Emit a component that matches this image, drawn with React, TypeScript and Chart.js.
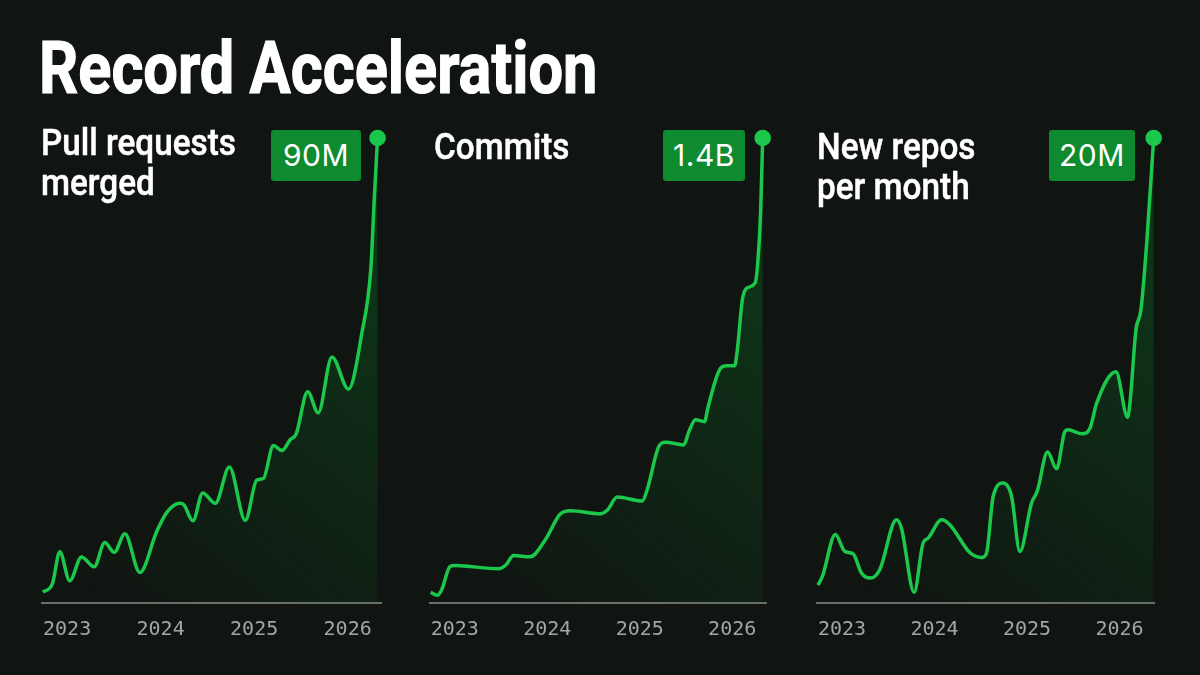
import { useEffect, useRef } from 'react';
import { Chart, registerables } from 'chart.js';

Chart.register(...registerables);

const yearTicks = [0, 12, 24, 36];
const yearLabels = ['2023', '2024', '2025', '2026'];

// months since Jan 2023, values in millions
const prMonths = [0, 1.2, 2.15, 3.43, 4.94, 6.56, 7.93, 9.13, 10.5, 12.43, 14.58, 15.86, 17.57, 18.08, 19.24, 20.49, 22.11, 23.91, 25.96, 27.43, 28.28, 29.56, 30.64, 31.71, 32.48, 33.96, 35.31, 37.07, 39.2, 40.92, 42.08, 42.5, 42.93];
const prValues = [2.1, 3.7, 9.9, 4.3, 8.9, 7.0, 11.7, 9.8, 13.4, 5.9, 13.8, 17.5, 19.3, 19.0, 15.9, 21.3, 19.3, 26.3, 16.0, 23.8, 24.1, 30.5, 29.5, 31.6, 32.7, 40.9, 36.8, 47.6, 41.4, 52.3, 65.0, 78.0, 90];

// values in billions
const commitMonths = [0, 0.86, 1.43, 2.51, 3.16, 8.79, 9.79, 10.74, 12.91, 14.86, 16.81, 18.11, 22.02, 22.97, 24.19, 27.44, 28.09, 29.6, 30.47, 32.85, 33.5, 34.37, 35.54, 35.97, 37.62, 38.4, 39.44, 39.79, 40.44, 41.0, 42.08, 42.4, 42.82, 43.08];
const commitValues = [0.032, 0.023, 0.04, 0.11, 0.113, 0.103, 0.115, 0.143, 0.139, 0.19, 0.268, 0.278, 0.269, 0.281, 0.319, 0.307, 0.341, 0.471, 0.484, 0.476, 0.516, 0.552, 0.546, 0.588, 0.707, 0.714, 0.714, 0.762, 0.913, 0.948, 0.963, 1.013, 1.183, 1.4];

// values in millions
const repoMonths = [0, 0.57, 2.26, 3.47, 4.55, 5.64, 6.81, 8.01, 10.18, 10.83, 12.47, 13.64, 14.29, 16.03, 17.1, 19.7, 21.22, 21.87, 22.73, 24.03, 25.12, 26.2, 27.71, 28.44, 29.79, 30.96, 32.04, 32.47, 34.29, 35.29, 36.16, 38.66, 40.18, 40.48, 41.26, 41.9, 42.65, 43.56];
const repoValues = [0.77, 1.14, 2.95, 2.22, 2.12, 1.29, 1.07, 1.43, 3.58, 3.22, 0.46, 2.58, 2.79, 3.58, 3.37, 2.17, 1.96, 2.15, 4.58, 5.16, 4.58, 2.22, 4.3, 4.8, 6.49, 5.77, 7.38, 7.45, 7.28, 7.52, 8.6, 9.95, 7.99, 8.6, 11.75, 12.6, 15.47, 20];

const FONT = 'Roboto, sans-serif';
const GREEN = '#1cc84b';

interface PanelProps {
  left: number;
  width: number;
  months: number[];
  values: number[];
  xMin: number;
  xMax: number;
  yMax: number;
}

const Panel = ({ left, width, months, values, xMin, xMax, yMax }: PanelProps) => {
  const canvasRef = useRef<HTMLCanvasElement>(null);

  useEffect(() => {
    if (!canvasRef.current) return;
    const last = values.length - 1;
    const chart = new Chart(canvasRef.current, {
      type: 'line',
      data: {
        datasets: [
          {
            data: months.map((m, i) => ({ x: m, y: values[i] })),
            borderColor: GREEN,
            borderWidth: 3.5,
            cubicInterpolationMode: 'monotone',
            fill: 'origin',
            clip: false,
            backgroundColor: (ctx: any) => {
              const area = ctx.chart.chartArea;
              if (!area) return 'transparent';
              const g = ctx.chart.ctx.createLinearGradient(area.left + 60, area.bottom, area.right, area.top + 120);
              g.addColorStop(0, 'rgba(8,130,40,0)');
              g.addColorStop(0.6, 'rgba(8,130,40,0.17)');
              g.addColorStop(1, 'rgba(8,130,40,0.3)');
              return g;
            },
            pointRadius: (ctx: any) => (ctx.dataIndex === last ? 8.3 : 0),
            pointBackgroundColor: GREEN,
            pointBorderWidth: 0,
          },
        ],
      },
      options: {
        responsive: false,
        animation: false,
        layout: { padding: { left: 10, right: 10, top: 18, bottom: 0 } },
        plugins: { legend: { display: false }, tooltip: { enabled: false } },
        scales: {
          x: {
            type: 'linear',
            min: xMin,
            max: xMax,
            afterBuildTicks: (scale: any) => {
              scale.ticks = yearTicks.map((value) => ({ value }));
            },
            afterFit: (scale: any) => {
              scale.height = 50;
              // tick padding would otherwise push the plot area in
              scale.paddingLeft = 0;
              scale.paddingRight = 0;
            },
            grid: { display: false, drawTicks: false },
            border: { display: true, color: '#6b6e6b', width: 2 },
            ticks: {
              align: 'start',
              autoSkip: false,
              maxRotation: 0,
              minRotation: 0,
              padding: 15,
              color: '#a3a6a2',
              font: { family: '"DejaVu Sans Mono", monospace', size: 20 },
              callback: (v: any) => yearLabels[yearTicks.indexOf(Number(v))],
            },
          },
          y: { display: false, min: 0, max: yMax },
        },
      },
    });
    return () => chart.destroy();
  }, [months, values, xMin, xMax, yMax]);

  return (
    <canvas
      ref={canvasRef}
      width={width}
      height={533}
      style={{ position: 'absolute', left, top: 120, width, height: 533 }}
    />
  );
};

const Heading = ({ left, top, lines }: { left: number; top: number; lines: string[] }) => (
  <div
    style={{
      position: 'absolute',
      left,
      top,
      color: '#fff',
      fontFamily: FONT,
      fontWeight: 500,
      fontSize: 37.5,
      lineHeight: '40px',
      whiteSpace: 'nowrap',
      transform: 'scaleX(0.888)',
      transformOrigin: 'left top',
      WebkitTextStroke: '0.5px #fff',
    }}
  >
    {lines.map((l) => (
      <div key={l}>{l}</div>
    ))}
  </div>
);

const Badge = ({ left, width, text }: { left: number; width: number; text: string }) => (
  <div
    style={{
      position: 'absolute',
      left,
      top: 130,
      width,
      height: 51,
      borderRadius: 3,
      background: '#0e8a2f',
      color: '#fff',
      fontFamily: 'Inter, sans-serif',
      fontSize: 30,
      lineHeight: '51px',
      textAlign: 'center',
      letterSpacing: 0.5,
    }}
  >
    {text}
  </div>
);

export default function App() {
  return (
    <div style={{ position: 'fixed', inset: 0, width: 1200, height: 675, background: '#111512', overflow: 'hidden' }}>
      <div
        style={{
          position: 'absolute',
          left: 39,
          top: 28,
          color: '#fff',
          fontFamily: FONT,
          fontWeight: 700,
          fontSize: 73,
          lineHeight: '80px',
          whiteSpace: 'nowrap',
          transform: 'scaleX(0.84)',
          transformOrigin: 'left top',
          WebkitTextStroke: '1.2px #fff',
        }}
      >
        Record Acceleration
      </div>
      <Panel left={32} width={359} months={prMonths} values={prValues} xMin={-0.13} xMax={43.37} yMax={90} />
      <Panel left={420} width={356} months={commitMonths} values={commitValues} xMin={-0.09} xMax={43.51} yMax={1.4} />
      <Panel left={807} width={357} months={repoMonths} values={repoValues} xMin={-0.13} xMax={43.6} yMax={20} />
      <Heading left={41} top={122} lines={['Pull requests', 'merged']} />
      <Heading left={434} top={126} lines={['Commits']} />
      <Heading left={817} top={126} lines={['New repos', 'per month']} />
      <Badge left={271} width={90} text="90M" />
      <Badge left={663} width={82} text="1.4B" />
      <Badge left={1049} width={86} text="20M" />
    </div>
  );
}
